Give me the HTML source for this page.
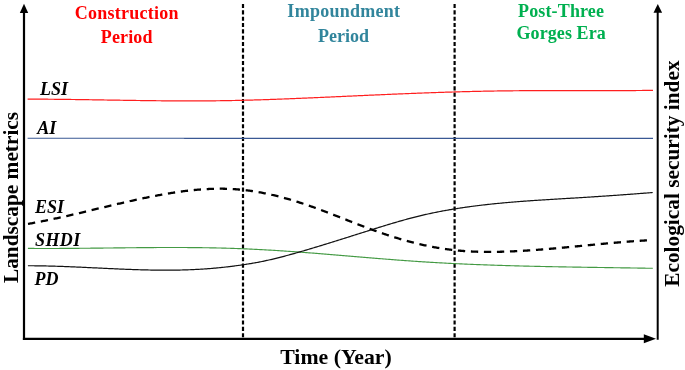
<!DOCTYPE html>
<html><head><meta charset="utf-8"><style>
html,body{margin:0;padding:0;background:#fff;width:685px;height:370px;overflow:hidden}
svg{display:block;will-change:transform}
text{font-family:"Liberation Serif",serif;font-weight:bold}
.t{font-size:18px}
.l{font-size:18px;font-style:italic;fill:#000}
.ax{font-size:21.33px;fill:#000}
.tm{font-size:21.8px}
</style></head><body>
<svg width="685" height="370" viewBox="0 0 685 370">
<rect width="685" height="370" fill="#fff"/>
<!-- vertical dashed separators -->
<line x1="243" y1="4" x2="243" y2="337.5" stroke="#000" stroke-width="2.2" stroke-dasharray="4.1 2.23"/>
<line x1="454.6" y1="4" x2="454.6" y2="337.5" stroke="#000" stroke-width="2.2" stroke-dasharray="4.1 2.23"/>
<!-- curves -->
<path d="M27.60,99.12 L28.60,99.12 L29.60,99.12 L30.60,99.13 L31.60,99.13 L32.60,99.13 L33.60,99.14 L34.60,99.14 L35.60,99.14 L36.60,99.15 L37.60,99.15 L38.60,99.16 L39.60,99.16 L40.60,99.17 L41.60,99.18 L42.60,99.18 L43.60,99.19 L44.60,99.20 L45.60,99.20 L46.60,99.21 L47.60,99.22 L48.60,99.23 L49.60,99.23 L50.60,99.24 L51.60,99.25 L52.60,99.26 L53.60,99.27 L54.60,99.28 L55.60,99.29 L56.60,99.30 L57.60,99.31 L58.60,99.32 L59.60,99.33 L60.60,99.34 L61.60,99.35 L62.60,99.37 L63.60,99.38 L64.60,99.39 L65.60,99.40 L66.60,99.41 L67.60,99.43 L68.60,99.44 L69.60,99.45 L70.60,99.47 L71.60,99.48 L72.60,99.49 L73.60,99.51 L74.60,99.52 L75.60,99.53 L76.60,99.55 L77.60,99.56 L78.60,99.58 L79.60,99.59 L80.60,99.60 L81.60,99.62 L82.60,99.63 L83.60,99.65 L84.60,99.66 L85.60,99.68 L86.60,99.69 L87.60,99.71 L88.60,99.72 L89.60,99.74 L90.60,99.76 L91.60,99.77 L92.60,99.79 L93.60,99.80 L94.60,99.82 L95.60,99.83 L96.60,99.85 L97.60,99.87 L98.60,99.88 L99.60,99.90 L100.60,99.91 L101.60,99.93 L102.60,99.95 L103.60,99.96 L104.60,99.98 L105.60,100.00 L106.60,100.01 L107.60,100.03 L108.60,100.04 L109.60,100.06 L110.60,100.08 L111.60,100.09 L112.60,100.11 L113.60,100.13 L114.60,100.14 L115.60,100.16 L116.60,100.17 L117.60,100.19 L118.60,100.21 L119.60,100.22 L120.60,100.24 L121.60,100.25 L122.60,100.27 L123.60,100.28 L124.60,100.30 L125.60,100.31 L126.60,100.33 L127.60,100.35 L128.60,100.36 L129.60,100.38 L130.60,100.39 L131.60,100.41 L132.60,100.42 L133.60,100.43 L134.60,100.45 L135.60,100.46 L136.60,100.48 L137.60,100.49 L138.60,100.51 L139.60,100.52 L140.60,100.53 L141.60,100.55 L142.60,100.56 L143.60,100.57 L144.60,100.59 L145.60,100.60 L146.60,100.61 L147.60,100.62 L148.60,100.64 L149.60,100.65 L150.60,100.66 L151.60,100.67 L152.60,100.68 L153.60,100.69 L154.60,100.71 L155.60,100.72 L156.60,100.73 L157.60,100.74 L158.60,100.75 L159.60,100.76 L160.60,100.77 L161.60,100.78 L162.60,100.79 L163.60,100.79 L164.60,100.80 L165.60,100.81 L166.60,100.82 L167.60,100.83 L168.60,100.83 L169.60,100.84 L170.60,100.85 L171.60,100.86 L172.60,100.86 L173.60,100.87 L174.60,100.87 L175.60,100.88 L176.60,100.88 L177.60,100.89 L178.60,100.89 L179.60,100.90 L180.60,100.90 L181.60,100.90 L182.60,100.91 L183.60,100.91 L184.60,100.91 L185.60,100.91 L186.60,100.92 L187.60,100.92 L188.60,100.92 L189.60,100.92 L190.60,100.92 L191.60,100.92 L192.60,100.92 L193.60,100.92 L194.60,100.91 L195.60,100.91 L196.60,100.91 L197.60,100.91 L198.60,100.90 L199.60,100.90 L200.60,100.90 L201.60,100.89 L202.60,100.89 L203.60,100.88 L204.60,100.88 L205.60,100.87 L206.60,100.86 L207.60,100.86 L208.60,100.85 L209.60,100.84 L210.60,100.83 L211.60,100.82 L212.60,100.81 L213.60,100.80 L214.60,100.79 L215.60,100.78 L216.60,100.77 L217.60,100.76 L218.60,100.75 L219.60,100.73 L220.60,100.72 L221.60,100.70 L222.60,100.69 L223.60,100.68 L224.60,100.66 L225.60,100.64 L226.60,100.63 L227.60,100.61 L228.60,100.59 L229.60,100.57 L230.60,100.55 L231.60,100.54 L232.60,100.52 L233.60,100.50 L234.60,100.48 L235.60,100.45 L236.60,100.43 L237.60,100.41 L238.60,100.39 L239.60,100.37 L240.60,100.34 L241.60,100.32 L242.60,100.29 L243.60,100.27 L244.60,100.24 L245.60,100.22 L246.60,100.19 L247.60,100.17 L248.60,100.14 L249.60,100.11 L250.60,100.09 L251.60,100.06 L252.60,100.03 L253.60,100.00 L254.60,99.97 L255.60,99.94 L256.60,99.91 L257.60,99.88 L258.60,99.85 L259.60,99.82 L260.60,99.79 L261.60,99.76 L262.60,99.73 L263.60,99.69 L264.60,99.66 L265.60,99.63 L266.60,99.60 L267.60,99.56 L268.60,99.53 L269.60,99.49 L270.60,99.46 L271.60,99.43 L272.60,99.39 L273.60,99.35 L274.60,99.32 L275.60,99.28 L276.60,99.25 L277.60,99.21 L278.60,99.17 L279.60,99.14 L280.60,99.10 L281.60,99.06 L282.60,99.02 L283.60,98.99 L284.60,98.95 L285.60,98.91 L286.60,98.87 L287.60,98.83 L288.60,98.79 L289.60,98.75 L290.60,98.71 L291.60,98.67 L292.60,98.63 L293.60,98.59 L294.60,98.55 L295.60,98.51 L296.60,98.47 L297.60,98.43 L298.60,98.39 L299.60,98.34 L300.60,98.30 L301.60,98.26 L302.60,98.22 L303.60,98.18 L304.60,98.13 L305.60,98.09 L306.60,98.05 L307.60,98.00 L308.60,97.96 L309.60,97.92 L310.60,97.87 L311.60,97.83 L312.60,97.79 L313.60,97.74 L314.60,97.70 L315.60,97.66 L316.60,97.61 L317.60,97.57 L318.60,97.52 L319.60,97.48 L320.60,97.43 L321.60,97.39 L322.60,97.35 L323.60,97.30 L324.60,97.26 L325.60,97.21 L326.60,97.17 L327.60,97.12 L328.60,97.08 L329.60,97.03 L330.60,96.99 L331.60,96.94 L332.60,96.89 L333.60,96.85 L334.60,96.80 L335.60,96.76 L336.60,96.71 L337.60,96.67 L338.60,96.62 L339.60,96.58 L340.60,96.53 L341.60,96.49 L342.60,96.44 L343.60,96.40 L344.60,96.35 L345.60,96.30 L346.60,96.26 L347.60,96.21 L348.60,96.17 L349.60,96.12 L350.60,96.08 L351.60,96.03 L352.60,95.99 L353.60,95.94 L354.60,95.90 L355.60,95.85 L356.60,95.81 L357.60,95.76 L358.60,95.72 L359.60,95.67 L360.60,95.63 L361.60,95.58 L362.60,95.54 L363.60,95.49 L364.60,95.45 L365.60,95.40 L366.60,95.36 L367.60,95.31 L368.60,95.27 L369.60,95.22 L370.60,95.18 L371.60,95.13 L372.60,95.09 L373.60,95.04 L374.60,95.00 L375.60,94.96 L376.60,94.91 L377.60,94.87 L378.60,94.82 L379.60,94.78 L380.60,94.74 L381.60,94.69 L382.60,94.65 L383.60,94.61 L384.60,94.56 L385.60,94.52 L386.60,94.48 L387.60,94.44 L388.60,94.39 L389.60,94.35 L390.60,94.31 L391.60,94.26 L392.60,94.22 L393.60,94.18 L394.60,94.14 L395.60,94.10 L396.60,94.05 L397.60,94.01 L398.60,93.97 L399.60,93.93 L400.60,93.89 L401.60,93.85 L402.60,93.81 L403.60,93.77 L404.60,93.73 L405.60,93.68 L406.60,93.64 L407.60,93.60 L408.60,93.56 L409.60,93.52 L410.60,93.48 L411.60,93.45 L412.60,93.41 L413.60,93.37 L414.60,93.33 L415.60,93.29 L416.60,93.25 L417.60,93.21 L418.60,93.17 L419.60,93.14 L420.60,93.10 L421.60,93.06 L422.60,93.02 L423.60,92.99 L424.60,92.95 L425.60,92.91 L426.60,92.88 L427.60,92.84 L428.60,92.80 L429.60,92.77 L430.60,92.73 L431.60,92.70 L432.60,92.66 L433.60,92.63 L434.60,92.59 L435.60,92.56 L436.60,92.52 L437.60,92.49 L438.60,92.45 L439.60,92.42 L440.60,92.39 L441.60,92.35 L442.60,92.32 L443.60,92.29 L444.60,92.26 L445.60,92.22 L446.60,92.19 L447.60,92.16 L448.60,92.13 L449.60,92.10 L450.60,92.07 L451.60,92.04 L452.60,92.01 L453.60,91.98 L454.60,91.95 L455.60,91.92 L456.60,91.89 L457.60,91.86 L458.60,91.83 L459.60,91.80 L460.60,91.77 L461.60,91.75 L462.60,91.72 L463.60,91.69 L464.60,91.66 L465.60,91.64 L466.60,91.61 L467.60,91.59 L468.60,91.56 L469.60,91.53 L470.60,91.51 L471.60,91.48 L472.60,91.46 L473.60,91.44 L474.60,91.41 L475.60,91.39 L476.60,91.37 L477.60,91.34 L478.60,91.32 L479.60,91.30 L480.60,91.28 L481.60,91.26 L482.60,91.24 L483.60,91.22 L484.60,91.20 L485.60,91.18 L486.60,91.16 L487.60,91.14 L488.60,91.12 L489.60,91.10 L490.60,91.08 L491.60,91.06 L492.60,91.05 L493.60,91.03 L494.60,91.01 L495.60,91.00 L496.60,90.98 L497.60,90.97 L498.60,90.95 L499.60,90.94 L500.60,90.92 L501.60,90.91 L502.60,90.89 L503.60,90.88 L504.60,90.87 L505.60,90.86 L506.60,90.84 L507.60,90.83 L508.60,90.82 L509.60,90.81 L510.60,90.80 L511.60,90.79 L512.60,90.78 L513.60,90.77 L514.60,90.76 L515.60,90.75 L516.60,90.74 L517.60,90.73 L518.60,90.73 L519.60,90.72 L520.60,90.71 L521.60,90.70 L522.60,90.70 L523.60,90.69 L524.60,90.69 L525.60,90.68 L526.60,90.67 L527.60,90.67 L528.60,90.66 L529.60,90.66 L530.60,90.65 L531.60,90.65 L532.60,90.64 L533.60,90.64 L534.60,90.64 L535.60,90.63 L536.60,90.63 L537.60,90.63 L538.60,90.62 L539.60,90.62 L540.60,90.62 L541.60,90.62 L542.60,90.61 L543.60,90.61 L544.60,90.61 L545.60,90.61 L546.60,90.61 L547.60,90.61 L548.60,90.60 L549.60,90.60 L550.60,90.60 L551.60,90.60 L552.60,90.60 L553.60,90.60 L554.60,90.60 L555.60,90.60 L556.60,90.60 L557.60,90.60 L558.60,90.60 L559.60,90.60 L560.60,90.60 L561.60,90.60 L562.60,90.60 L563.60,90.60 L564.60,90.60 L565.60,90.60 L566.60,90.60 L567.60,90.61 L568.60,90.61 L569.60,90.61 L570.60,90.61 L571.60,90.61 L572.60,90.61 L573.60,90.61 L574.60,90.61 L575.60,90.61 L576.60,90.61 L577.60,90.62 L578.60,90.62 L579.60,90.62 L580.60,90.62 L581.60,90.62 L582.60,90.62 L583.60,90.62 L584.60,90.62 L585.60,90.62 L586.60,90.63 L587.60,90.63 L588.60,90.63 L589.60,90.63 L590.60,90.63 L591.60,90.63 L592.60,90.63 L593.60,90.63 L594.60,90.63 L595.60,90.63 L596.60,90.63 L597.60,90.63 L598.60,90.63 L599.60,90.63 L600.60,90.63 L601.60,90.63 L602.60,90.63 L603.60,90.63 L604.60,90.63 L605.60,90.63 L606.60,90.63 L607.60,90.63 L608.60,90.63 L609.60,90.63 L610.60,90.63 L611.60,90.62 L612.60,90.62 L613.60,90.62 L614.60,90.62 L615.60,90.62 L616.60,90.61 L617.60,90.61 L618.60,90.61 L619.60,90.61 L620.60,90.60 L621.60,90.60 L622.60,90.59 L623.60,90.59 L624.60,90.59 L625.60,90.58 L626.60,90.58 L627.60,90.57 L628.60,90.57 L629.60,90.56 L630.60,90.56 L631.60,90.55 L632.60,90.55 L633.60,90.54 L634.60,90.53 L635.60,90.53 L636.60,90.52 L637.60,90.51 L638.60,90.50 L639.60,90.49 L640.60,90.49 L641.60,90.48 L642.60,90.47 L643.60,90.46 L644.60,90.45 L645.60,90.44 L646.60,90.43 L647.60,90.42 L648.60,90.41 L649.60,90.40 L650.60,90.38 L651.60,90.37 L652.60,90.36 L653.00,90.35" fill="none" stroke="#ff1f1f" stroke-width="1.2"/>
<path d="M27.60,138.25 L28.60,138.25 L29.60,138.25 L30.60,138.25 L31.60,138.25 L32.60,138.25 L33.60,138.25 L34.60,138.25 L35.60,138.25 L36.60,138.25 L37.60,138.25 L38.60,138.25 L39.60,138.25 L40.60,138.25 L41.60,138.25 L42.60,138.25 L43.60,138.25 L44.60,138.25 L45.60,138.25 L46.60,138.25 L47.60,138.25 L48.60,138.25 L49.60,138.25 L50.60,138.25 L51.60,138.25 L52.60,138.25 L53.60,138.25 L54.60,138.25 L55.60,138.25 L56.60,138.25 L57.60,138.25 L58.60,138.25 L59.60,138.26 L60.60,138.26 L61.60,138.26 L62.60,138.26 L63.60,138.26 L64.60,138.26 L65.60,138.26 L66.60,138.26 L67.60,138.26 L68.60,138.26 L69.60,138.26 L70.60,138.26 L71.60,138.26 L72.60,138.26 L73.60,138.26 L74.60,138.26 L75.60,138.26 L76.60,138.26 L77.60,138.26 L78.60,138.26 L79.60,138.26 L80.60,138.26 L81.60,138.26 L82.60,138.26 L83.60,138.26 L84.60,138.26 L85.60,138.26 L86.60,138.26 L87.60,138.26 L88.60,138.26 L89.60,138.26 L90.60,138.26 L91.60,138.26 L92.60,138.26 L93.60,138.26 L94.60,138.26 L95.60,138.26 L96.60,138.26 L97.60,138.26 L98.60,138.26 L99.60,138.26 L100.60,138.26 L101.60,138.26 L102.60,138.26 L103.60,138.26 L104.60,138.26 L105.60,138.26 L106.60,138.26 L107.60,138.26 L108.60,138.26 L109.60,138.26 L110.60,138.26 L111.60,138.26 L112.60,138.26 L113.60,138.26 L114.60,138.26 L115.60,138.26 L116.60,138.26 L117.60,138.26 L118.60,138.26 L119.60,138.26 L120.60,138.26 L121.60,138.27 L122.60,138.27 L123.60,138.27 L124.60,138.27 L125.60,138.27 L126.60,138.27 L127.60,138.27 L128.60,138.27 L129.60,138.27 L130.60,138.27 L131.60,138.27 L132.60,138.27 L133.60,138.27 L134.60,138.27 L135.60,138.27 L136.60,138.27 L137.60,138.27 L138.60,138.27 L139.60,138.27 L140.60,138.27 L141.60,138.27 L142.60,138.27 L143.60,138.27 L144.60,138.27 L145.60,138.27 L146.60,138.27 L147.60,138.27 L148.60,138.27 L149.60,138.27 L150.60,138.27 L151.60,138.27 L152.60,138.27 L153.60,138.27 L154.60,138.27 L155.60,138.27 L156.60,138.27 L157.60,138.27 L158.60,138.27 L159.60,138.27 L160.60,138.27 L161.60,138.27 L162.60,138.27 L163.60,138.27 L164.60,138.27 L165.60,138.27 L166.60,138.27 L167.60,138.27 L168.60,138.27 L169.60,138.27 L170.60,138.27 L171.60,138.27 L172.60,138.27 L173.60,138.27 L174.60,138.27 L175.60,138.27 L176.60,138.27 L177.60,138.27 L178.60,138.27 L179.60,138.27 L180.60,138.27 L181.60,138.27 L182.60,138.27 L183.60,138.27 L184.60,138.28 L185.60,138.28 L186.60,138.28 L187.60,138.28 L188.60,138.28 L189.60,138.28 L190.60,138.28 L191.60,138.28 L192.60,138.28 L193.60,138.28 L194.60,138.28 L195.60,138.28 L196.60,138.28 L197.60,138.28 L198.60,138.28 L199.60,138.28 L200.60,138.28 L201.60,138.28 L202.60,138.28 L203.60,138.28 L204.60,138.28 L205.60,138.28 L206.60,138.28 L207.60,138.28 L208.60,138.28 L209.60,138.28 L210.60,138.28 L211.60,138.28 L212.60,138.28 L213.60,138.28 L214.60,138.28 L215.60,138.28 L216.60,138.28 L217.60,138.28 L218.60,138.28 L219.60,138.28 L220.60,138.28 L221.60,138.28 L222.60,138.28 L223.60,138.28 L224.60,138.28 L225.60,138.28 L226.60,138.28 L227.60,138.28 L228.60,138.28 L229.60,138.28 L230.60,138.28 L231.60,138.28 L232.60,138.28 L233.60,138.28 L234.60,138.28 L235.60,138.28 L236.60,138.28 L237.60,138.28 L238.60,138.28 L239.60,138.28 L240.60,138.28 L241.60,138.28 L242.60,138.28 L243.60,138.28 L244.60,138.28 L245.60,138.28 L246.60,138.29 L247.60,138.29 L248.60,138.29 L249.60,138.29 L250.60,138.29 L251.60,138.29 L252.60,138.29 L253.60,138.29 L254.60,138.29 L255.60,138.29 L256.60,138.29 L257.60,138.29 L258.60,138.29 L259.60,138.29 L260.60,138.29 L261.60,138.29 L262.60,138.29 L263.60,138.29 L264.60,138.29 L265.60,138.29 L266.60,138.29 L267.60,138.29 L268.60,138.29 L269.60,138.29 L270.60,138.29 L271.60,138.29 L272.60,138.29 L273.60,138.29 L274.60,138.29 L275.60,138.29 L276.60,138.29 L277.60,138.29 L278.60,138.29 L279.60,138.29 L280.60,138.29 L281.60,138.29 L282.60,138.29 L283.60,138.29 L284.60,138.29 L285.60,138.29 L286.60,138.29 L287.60,138.29 L288.60,138.29 L289.60,138.29 L290.60,138.29 L291.60,138.29 L292.60,138.29 L293.60,138.29 L294.60,138.29 L295.60,138.29 L296.60,138.29 L297.60,138.29 L298.60,138.29 L299.60,138.29 L300.60,138.29 L301.60,138.29 L302.60,138.29 L303.60,138.29 L304.60,138.29 L305.60,138.29 L306.60,138.29 L307.60,138.29 L308.60,138.29 L309.60,138.30 L310.60,138.30 L311.60,138.30 L312.60,138.30 L313.60,138.30 L314.60,138.30 L315.60,138.30 L316.60,138.30 L317.60,138.30 L318.60,138.30 L319.60,138.30 L320.60,138.30 L321.60,138.30 L322.60,138.30 L323.60,138.30 L324.60,138.30 L325.60,138.30 L326.60,138.30 L327.60,138.30 L328.60,138.30 L329.60,138.30 L330.60,138.30 L331.60,138.30 L332.60,138.30 L333.60,138.30 L334.60,138.30 L335.60,138.30 L336.60,138.30 L337.60,138.30 L338.60,138.30 L339.60,138.30 L340.60,138.30 L341.60,138.30 L342.60,138.30 L343.60,138.30 L344.60,138.30 L345.60,138.30 L346.60,138.30 L347.60,138.30 L348.60,138.30 L349.60,138.30 L350.60,138.30 L351.60,138.30 L352.60,138.30 L353.60,138.30 L354.60,138.30 L355.60,138.30 L356.60,138.30 L357.60,138.30 L358.60,138.30 L359.60,138.30 L360.60,138.30 L361.60,138.30 L362.60,138.30 L363.60,138.30 L364.60,138.30 L365.60,138.30 L366.60,138.30 L367.60,138.30 L368.60,138.30 L369.60,138.30 L370.60,138.30 L371.60,138.31 L372.60,138.31 L373.60,138.31 L374.60,138.31 L375.60,138.31 L376.60,138.31 L377.60,138.31 L378.60,138.31 L379.60,138.31 L380.60,138.31 L381.60,138.31 L382.60,138.31 L383.60,138.31 L384.60,138.31 L385.60,138.31 L386.60,138.31 L387.60,138.31 L388.60,138.31 L389.60,138.31 L390.60,138.31 L391.60,138.31 L392.60,138.31 L393.60,138.31 L394.60,138.31 L395.60,138.31 L396.60,138.31 L397.60,138.31 L398.60,138.31 L399.60,138.31 L400.60,138.31 L401.60,138.31 L402.60,138.31 L403.60,138.31 L404.60,138.31 L405.60,138.31 L406.60,138.31 L407.60,138.31 L408.60,138.31 L409.60,138.31 L410.60,138.31 L411.60,138.31 L412.60,138.31 L413.60,138.31 L414.60,138.31 L415.60,138.31 L416.60,138.31 L417.60,138.31 L418.60,138.31 L419.60,138.31 L420.60,138.31 L421.60,138.31 L422.60,138.31 L423.60,138.31 L424.60,138.31 L425.60,138.31 L426.60,138.31 L427.60,138.31 L428.60,138.31 L429.60,138.31 L430.60,138.31 L431.60,138.31 L432.60,138.31 L433.60,138.31 L434.60,138.32 L435.60,138.32 L436.60,138.32 L437.60,138.32 L438.60,138.32 L439.60,138.32 L440.60,138.32 L441.60,138.32 L442.60,138.32 L443.60,138.32 L444.60,138.32 L445.60,138.32 L446.60,138.32 L447.60,138.32 L448.60,138.32 L449.60,138.32 L450.60,138.32 L451.60,138.32 L452.60,138.32 L453.60,138.32 L454.60,138.32 L455.60,138.32 L456.60,138.32 L457.60,138.32 L458.60,138.32 L459.60,138.32 L460.60,138.32 L461.60,138.32 L462.60,138.32 L463.60,138.32 L464.60,138.32 L465.60,138.32 L466.60,138.32 L467.60,138.32 L468.60,138.32 L469.60,138.32 L470.60,138.32 L471.60,138.32 L472.60,138.32 L473.60,138.32 L474.60,138.32 L475.60,138.32 L476.60,138.32 L477.60,138.32 L478.60,138.32 L479.60,138.32 L480.60,138.32 L481.60,138.32 L482.60,138.32 L483.60,138.32 L484.60,138.32 L485.60,138.32 L486.60,138.32 L487.60,138.32 L488.60,138.32 L489.60,138.32 L490.60,138.32 L491.60,138.32 L492.60,138.32 L493.60,138.32 L494.60,138.32 L495.60,138.32 L496.60,138.33 L497.60,138.33 L498.60,138.33 L499.60,138.33 L500.60,138.33 L501.60,138.33 L502.60,138.33 L503.60,138.33 L504.60,138.33 L505.60,138.33 L506.60,138.33 L507.60,138.33 L508.60,138.33 L509.60,138.33 L510.60,138.33 L511.60,138.33 L512.60,138.33 L513.60,138.33 L514.60,138.33 L515.60,138.33 L516.60,138.33 L517.60,138.33 L518.60,138.33 L519.60,138.33 L520.60,138.33 L521.60,138.33 L522.60,138.33 L523.60,138.33 L524.60,138.33 L525.60,138.33 L526.60,138.33 L527.60,138.33 L528.60,138.33 L529.60,138.33 L530.60,138.33 L531.60,138.33 L532.60,138.33 L533.60,138.33 L534.60,138.33 L535.60,138.33 L536.60,138.33 L537.60,138.33 L538.60,138.33 L539.60,138.33 L540.60,138.33 L541.60,138.33 L542.60,138.33 L543.60,138.33 L544.60,138.33 L545.60,138.33 L546.60,138.33 L547.60,138.33 L548.60,138.33 L549.60,138.33 L550.60,138.33 L551.60,138.33 L552.60,138.33 L553.60,138.33 L554.60,138.33 L555.60,138.33 L556.60,138.33 L557.60,138.33 L558.60,138.33 L559.60,138.34 L560.60,138.34 L561.60,138.34 L562.60,138.34 L563.60,138.34 L564.60,138.34 L565.60,138.34 L566.60,138.34 L567.60,138.34 L568.60,138.34 L569.60,138.34 L570.60,138.34 L571.60,138.34 L572.60,138.34 L573.60,138.34 L574.60,138.34 L575.60,138.34 L576.60,138.34 L577.60,138.34 L578.60,138.34 L579.60,138.34 L580.60,138.34 L581.60,138.34 L582.60,138.34 L583.60,138.34 L584.60,138.34 L585.60,138.34 L586.60,138.34 L587.60,138.34 L588.60,138.34 L589.60,138.34 L590.60,138.34 L591.60,138.34 L592.60,138.34 L593.60,138.34 L594.60,138.34 L595.60,138.34 L596.60,138.34 L597.60,138.34 L598.60,138.34 L599.60,138.34 L600.60,138.34 L601.60,138.34 L602.60,138.34 L603.60,138.34 L604.60,138.34 L605.60,138.34 L606.60,138.34 L607.60,138.34 L608.60,138.34 L609.60,138.34 L610.60,138.34 L611.60,138.34 L612.60,138.34 L613.60,138.34 L614.60,138.34 L615.60,138.34 L616.60,138.34 L617.60,138.34 L618.60,138.34 L619.60,138.34 L620.60,138.34 L621.60,138.34 L622.60,138.35 L623.60,138.35 L624.60,138.35 L625.60,138.35 L626.60,138.35 L627.60,138.35 L628.60,138.35 L629.60,138.35 L630.60,138.35 L631.60,138.35 L632.60,138.35 L633.60,138.35 L634.60,138.35 L635.60,138.35 L636.60,138.35 L637.60,138.35 L638.60,138.35 L639.60,138.35 L640.60,138.35 L641.60,138.35 L642.60,138.35 L643.60,138.35 L644.60,138.35 L645.60,138.35 L646.60,138.35 L647.60,138.35 L648.60,138.35 L649.60,138.35 L650.60,138.35 L651.60,138.35 L652.60,138.35 L653.00,138.35" fill="none" stroke="#3a5894" stroke-width="1.2"/>
<path d="M27.90,248.41 L28.90,248.41 L29.90,248.42 L30.90,248.43 L31.90,248.43 L32.90,248.44 L33.90,248.44 L34.90,248.45 L35.90,248.45 L36.90,248.46 L37.90,248.46 L38.90,248.46 L39.90,248.47 L40.90,248.47 L41.90,248.47 L42.90,248.47 L43.90,248.47 L44.90,248.47 L45.90,248.47 L46.90,248.47 L47.90,248.47 L48.90,248.47 L49.90,248.47 L50.90,248.47 L51.90,248.47 L52.90,248.47 L53.90,248.46 L54.90,248.46 L55.90,248.46 L56.90,248.45 L57.90,248.45 L58.90,248.45 L59.90,248.44 L60.90,248.44 L61.90,248.43 L62.90,248.43 L63.90,248.42 L64.90,248.42 L65.90,248.41 L66.90,248.40 L67.90,248.40 L68.90,248.39 L69.90,248.38 L70.90,248.38 L71.90,248.37 L72.90,248.36 L73.90,248.35 L74.90,248.35 L75.90,248.34 L76.90,248.33 L77.90,248.32 L78.90,248.31 L79.90,248.30 L80.90,248.29 L81.90,248.28 L82.90,248.27 L83.90,248.26 L84.90,248.26 L85.90,248.25 L86.90,248.24 L87.90,248.22 L88.90,248.21 L89.90,248.20 L90.90,248.19 L91.90,248.18 L92.90,248.17 L93.90,248.16 L94.90,248.15 L95.90,248.14 L96.90,248.13 L97.90,248.12 L98.90,248.11 L99.90,248.10 L100.90,248.08 L101.90,248.07 L102.90,248.06 L103.90,248.05 L104.90,248.04 L105.90,248.03 L106.90,248.02 L107.90,248.00 L108.90,247.99 L109.90,247.98 L110.90,247.97 L111.90,247.96 L112.90,247.95 L113.90,247.93 L114.90,247.92 L115.90,247.91 L116.90,247.90 L117.90,247.89 L118.90,247.88 L119.90,247.87 L120.90,247.86 L121.90,247.84 L122.90,247.83 L123.90,247.82 L124.90,247.81 L125.90,247.80 L126.90,247.79 L127.90,247.78 L128.90,247.77 L129.90,247.76 L130.90,247.75 L131.90,247.74 L132.90,247.73 L133.90,247.72 L134.90,247.71 L135.90,247.70 L136.90,247.69 L137.90,247.68 L138.90,247.67 L139.90,247.66 L140.90,247.65 L141.90,247.65 L142.90,247.64 L143.90,247.63 L144.90,247.62 L145.90,247.61 L146.90,247.61 L147.90,247.60 L148.90,247.59 L149.90,247.58 L150.90,247.58 L151.90,247.57 L152.90,247.57 L153.90,247.56 L154.90,247.55 L155.90,247.55 L156.90,247.54 L157.90,247.54 L158.90,247.53 L159.90,247.53 L160.90,247.53 L161.90,247.52 L162.90,247.52 L163.90,247.52 L164.90,247.51 L165.90,247.51 L166.90,247.51 L167.90,247.51 L168.90,247.51 L169.90,247.51 L170.90,247.51 L171.90,247.50 L172.90,247.51 L173.90,247.51 L174.90,247.51 L175.90,247.51 L176.90,247.51 L177.90,247.51 L178.90,247.51 L179.90,247.52 L180.90,247.52 L181.90,247.52 L182.90,247.53 L183.90,247.53 L184.90,247.54 L185.90,247.54 L186.90,247.55 L187.90,247.55 L188.90,247.56 L189.90,247.57 L190.90,247.58 L191.90,247.58 L192.90,247.59 L193.90,247.60 L194.90,247.61 L195.90,247.62 L196.90,247.63 L197.90,247.64 L198.90,247.66 L199.90,247.67 L200.90,247.68 L201.90,247.69 L202.90,247.71 L203.90,247.72 L204.90,247.74 L205.90,247.75 L206.90,247.77 L207.90,247.78 L208.90,247.80 L209.90,247.82 L210.90,247.84 L211.90,247.86 L212.90,247.88 L213.90,247.90 L214.90,247.92 L215.90,247.94 L216.90,247.96 L217.90,247.98 L218.90,248.01 L219.90,248.03 L220.90,248.05 L221.90,248.08 L222.90,248.10 L223.90,248.13 L224.90,248.16 L225.90,248.19 L226.90,248.21 L227.90,248.24 L228.90,248.27 L229.90,248.30 L230.90,248.34 L231.90,248.37 L232.90,248.40 L233.90,248.43 L234.90,248.47 L235.90,248.50 L236.90,248.54 L237.90,248.57 L238.90,248.61 L239.90,248.65 L240.90,248.69 L241.90,248.73 L242.90,248.77 L243.90,248.81 L244.90,248.85 L245.90,248.89 L246.90,248.94 L247.90,248.98 L248.90,249.02 L249.90,249.07 L250.90,249.12 L251.90,249.16 L252.90,249.21 L253.90,249.26 L254.90,249.31 L255.90,249.36 L256.90,249.41 L257.90,249.46 L258.90,249.51 L259.90,249.56 L260.90,249.62 L261.90,249.67 L262.90,249.72 L263.90,249.78 L264.90,249.83 L265.90,249.89 L266.90,249.95 L267.90,250.01 L268.90,250.06 L269.90,250.12 L270.90,250.18 L271.90,250.24 L272.90,250.30 L273.90,250.36 L274.90,250.42 L275.90,250.49 L276.90,250.55 L277.90,250.61 L278.90,250.68 L279.90,250.74 L280.90,250.81 L281.90,250.87 L282.90,250.94 L283.90,251.00 L284.90,251.07 L285.90,251.14 L286.90,251.21 L287.90,251.27 L288.90,251.34 L289.90,251.41 L290.90,251.48 L291.90,251.55 L292.90,251.62 L293.90,251.69 L294.90,251.76 L295.90,251.84 L296.90,251.91 L297.90,251.98 L298.90,252.05 L299.90,252.13 L300.90,252.20 L301.90,252.28 L302.90,252.35 L303.90,252.43 L304.90,252.50 L305.90,252.58 L306.90,252.65 L307.90,252.73 L308.90,252.81 L309.90,252.88 L310.90,252.96 L311.90,253.04 L312.90,253.12 L313.90,253.19 L314.90,253.27 L315.90,253.35 L316.90,253.43 L317.90,253.51 L318.90,253.59 L319.90,253.67 L320.90,253.75 L321.90,253.83 L322.90,253.91 L323.90,253.99 L324.90,254.07 L325.90,254.15 L326.90,254.23 L327.90,254.31 L328.90,254.40 L329.90,254.48 L330.90,254.56 L331.90,254.64 L332.90,254.73 L333.90,254.81 L334.90,254.89 L335.90,254.97 L336.90,255.06 L337.90,255.14 L338.90,255.22 L339.90,255.31 L340.90,255.39 L341.90,255.47 L342.90,255.56 L343.90,255.64 L344.90,255.73 L345.90,255.81 L346.90,255.89 L347.90,255.98 L348.90,256.06 L349.90,256.15 L350.90,256.23 L351.90,256.31 L352.90,256.40 L353.90,256.48 L354.90,256.57 L355.90,256.65 L356.90,256.73 L357.90,256.82 L358.90,256.90 L359.90,256.99 L360.90,257.07 L361.90,257.15 L362.90,257.24 L363.90,257.32 L364.90,257.40 L365.90,257.49 L366.90,257.57 L367.90,257.65 L368.90,257.74 L369.90,257.82 L370.90,257.90 L371.90,257.99 L372.90,258.07 L373.90,258.15 L374.90,258.23 L375.90,258.32 L376.90,258.40 L377.90,258.48 L378.90,258.56 L379.90,258.64 L380.90,258.72 L381.90,258.80 L382.90,258.88 L383.90,258.96 L384.90,259.04 L385.90,259.12 L386.90,259.20 L387.90,259.28 L388.90,259.36 L389.90,259.44 L390.90,259.52 L391.90,259.60 L392.90,259.67 L393.90,259.75 L394.90,259.83 L395.90,259.91 L396.90,259.98 L397.90,260.06 L398.90,260.13 L399.90,260.21 L400.90,260.28 L401.90,260.36 L402.90,260.43 L403.90,260.51 L404.90,260.58 L405.90,260.65 L406.90,260.72 L407.90,260.80 L408.90,260.87 L409.90,260.94 L410.90,261.01 L411.90,261.08 L412.90,261.15 L413.90,261.22 L414.90,261.29 L415.90,261.35 L416.90,261.42 L417.90,261.49 L418.90,261.56 L419.90,261.62 L420.90,261.69 L421.90,261.75 L422.90,261.82 L423.90,261.88 L424.90,261.94 L425.90,262.01 L426.90,262.07 L427.90,262.13 L428.90,262.19 L429.90,262.25 L430.90,262.31 L431.90,262.37 L432.90,262.43 L433.90,262.49 L434.90,262.55 L435.90,262.60 L436.90,262.66 L437.90,262.72 L438.90,262.77 L439.90,262.83 L440.90,262.89 L441.90,262.94 L442.90,262.99 L443.90,263.05 L444.90,263.10 L445.90,263.15 L446.90,263.21 L447.90,263.26 L448.90,263.31 L449.90,263.36 L450.90,263.41 L451.90,263.46 L452.90,263.51 L453.90,263.56 L454.90,263.61 L455.90,263.65 L456.90,263.70 L457.90,263.75 L458.90,263.80 L459.90,263.84 L460.90,263.89 L461.90,263.93 L462.90,263.98 L463.90,264.02 L464.90,264.07 L465.90,264.11 L466.90,264.16 L467.90,264.20 L468.90,264.24 L469.90,264.28 L470.90,264.33 L471.90,264.37 L472.90,264.41 L473.90,264.45 L474.90,264.49 L475.90,264.53 L476.90,264.57 L477.90,264.61 L478.90,264.65 L479.90,264.68 L480.90,264.72 L481.90,264.76 L482.90,264.80 L483.90,264.83 L484.90,264.87 L485.90,264.91 L486.90,264.94 L487.90,264.98 L488.90,265.01 L489.90,265.05 L490.90,265.08 L491.90,265.12 L492.90,265.15 L493.90,265.19 L494.90,265.22 L495.90,265.25 L496.90,265.29 L497.90,265.32 L498.90,265.35 L499.90,265.38 L500.90,265.41 L501.90,265.44 L502.90,265.47 L503.90,265.51 L504.90,265.54 L505.90,265.57 L506.90,265.60 L507.90,265.62 L508.90,265.65 L509.90,265.68 L510.90,265.71 L511.90,265.74 L512.90,265.77 L513.90,265.80 L514.90,265.82 L515.90,265.85 L516.90,265.88 L517.90,265.90 L518.90,265.93 L519.90,265.96 L520.90,265.98 L521.90,266.01 L522.90,266.03 L523.90,266.06 L524.90,266.08 L525.90,266.11 L526.90,266.13 L527.90,266.16 L528.90,266.18 L529.90,266.21 L530.90,266.23 L531.90,266.25 L532.90,266.28 L533.90,266.30 L534.90,266.32 L535.90,266.35 L536.90,266.37 L537.90,266.39 L538.90,266.41 L539.90,266.43 L540.90,266.46 L541.90,266.48 L542.90,266.50 L543.90,266.52 L544.90,266.54 L545.90,266.56 L546.90,266.58 L547.90,266.60 L548.90,266.62 L549.90,266.64 L550.90,266.66 L551.90,266.68 L552.90,266.70 L553.90,266.72 L554.90,266.74 L555.90,266.76 L556.90,266.78 L557.90,266.80 L558.90,266.82 L559.90,266.83 L560.90,266.85 L561.90,266.87 L562.90,266.89 L563.90,266.91 L564.90,266.92 L565.90,266.94 L566.90,266.96 L567.90,266.98 L568.90,266.99 L569.90,267.01 L570.90,267.03 L571.90,267.05 L572.90,267.06 L573.90,267.08 L574.90,267.10 L575.90,267.11 L576.90,267.13 L577.90,267.15 L578.90,267.16 L579.90,267.18 L580.90,267.19 L581.90,267.21 L582.90,267.23 L583.90,267.24 L584.90,267.26 L585.90,267.27 L586.90,267.29 L587.90,267.31 L588.90,267.32 L589.90,267.34 L590.90,267.35 L591.90,267.37 L592.90,267.38 L593.90,267.40 L594.90,267.41 L595.90,267.43 L596.90,267.44 L597.90,267.46 L598.90,267.48 L599.90,267.49 L600.90,267.51 L601.90,267.52 L602.90,267.54 L603.90,267.55 L604.90,267.57 L605.90,267.58 L606.90,267.60 L607.90,267.61 L608.90,267.63 L609.90,267.64 L610.90,267.66 L611.90,267.67 L612.90,267.69 L613.90,267.70 L614.90,267.71 L615.90,267.73 L616.90,267.74 L617.90,267.76 L618.90,267.77 L619.90,267.79 L620.90,267.81 L621.90,267.82 L622.90,267.84 L623.90,267.85 L624.90,267.87 L625.90,267.88 L626.90,267.90 L627.90,267.91 L628.90,267.93 L629.90,267.94 L630.90,267.96 L631.90,267.97 L632.90,267.99 L633.90,268.00 L634.90,268.02 L635.90,268.04 L636.90,268.05 L637.90,268.07 L638.90,268.08 L639.90,268.10 L640.90,268.12 L641.90,268.13 L642.90,268.15 L643.90,268.17 L644.90,268.18 L645.90,268.20 L646.90,268.22 L647.90,268.23 L648.90,268.25 L649.90,268.27 L650.90,268.28 L651.90,268.30 L652.70,268.31" fill="none" stroke="#449a44" stroke-width="1.15"/>
<path d="M27.90,265.74 L28.90,265.74 L29.90,265.74 L30.90,265.75 L31.90,265.75 L32.90,265.76 L33.90,265.77 L34.90,265.78 L35.90,265.79 L36.90,265.80 L37.90,265.81 L38.90,265.83 L39.90,265.84 L40.90,265.86 L41.90,265.88 L42.90,265.89 L43.90,265.91 L44.90,265.93 L45.90,265.96 L46.90,265.98 L47.90,266.00 L48.90,266.03 L49.90,266.05 L50.90,266.08 L51.90,266.11 L52.90,266.14 L53.90,266.17 L54.90,266.20 L55.90,266.23 L56.90,266.26 L57.90,266.29 L58.90,266.33 L59.90,266.36 L60.90,266.39 L61.90,266.43 L62.90,266.47 L63.90,266.50 L64.90,266.54 L65.90,266.58 L66.90,266.62 L67.90,266.66 L68.90,266.70 L69.90,266.74 L70.90,266.78 L71.90,266.82 L72.90,266.86 L73.90,266.91 L74.90,266.95 L75.90,266.99 L76.90,267.04 L77.90,267.08 L78.90,267.12 L79.90,267.17 L80.90,267.21 L81.90,267.26 L82.90,267.31 L83.90,267.35 L84.90,267.40 L85.90,267.45 L86.90,267.49 L87.90,267.54 L88.90,267.59 L89.90,267.63 L90.90,267.68 L91.90,267.73 L92.90,267.78 L93.90,267.83 L94.90,267.87 L95.90,267.92 L96.90,267.97 L97.90,268.02 L98.90,268.06 L99.90,268.11 L100.90,268.16 L101.90,268.21 L102.90,268.26 L103.90,268.30 L104.90,268.35 L105.90,268.40 L106.90,268.44 L107.90,268.49 L108.90,268.54 L109.90,268.58 L110.90,268.63 L111.90,268.68 L112.90,268.72 L113.90,268.77 L114.90,268.81 L115.90,268.86 L116.90,268.90 L117.90,268.94 L118.90,268.99 L119.90,269.03 L120.90,269.07 L121.90,269.11 L122.90,269.16 L123.90,269.20 L124.90,269.24 L125.90,269.28 L126.90,269.31 L127.90,269.35 L128.90,269.39 L129.90,269.43 L130.90,269.47 L131.90,269.50 L132.90,269.54 L133.90,269.57 L134.90,269.60 L135.90,269.64 L136.90,269.67 L137.90,269.70 L138.90,269.73 L139.90,269.76 L140.90,269.79 L141.90,269.82 L142.90,269.84 L143.90,269.87 L144.90,269.90 L145.90,269.92 L146.90,269.94 L147.90,269.97 L148.90,269.99 L149.90,270.01 L150.90,270.03 L151.90,270.04 L152.90,270.06 L153.90,270.08 L154.90,270.09 L155.90,270.11 L156.90,270.12 L157.90,270.13 L158.90,270.14 L159.90,270.15 L160.90,270.15 L161.90,270.16 L162.90,270.17 L163.90,270.17 L164.90,270.17 L165.90,270.17 L166.90,270.17 L167.90,270.17 L168.90,270.17 L169.90,270.16 L170.90,270.15 L171.90,270.15 L172.90,270.14 L173.90,270.13 L174.90,270.11 L175.90,270.10 L176.90,270.08 L177.90,270.07 L178.90,270.05 L179.90,270.03 L180.90,270.01 L181.90,269.98 L182.90,269.96 L183.90,269.93 L184.90,269.90 L185.90,269.87 L186.90,269.84 L187.90,269.80 L188.90,269.77 L189.90,269.73 L190.90,269.69 L191.90,269.65 L192.90,269.61 L193.90,269.56 L194.90,269.51 L195.90,269.46 L196.90,269.41 L197.90,269.36 L198.90,269.30 L199.90,269.25 L200.90,269.19 L201.90,269.13 L202.90,269.06 L203.90,269.00 L204.90,268.93 L205.90,268.86 L206.90,268.79 L207.90,268.71 L208.90,268.64 L209.90,268.56 L210.90,268.48 L211.90,268.39 L212.90,268.31 L213.90,268.22 L214.90,268.13 L215.90,268.04 L216.90,267.95 L217.90,267.85 L218.90,267.76 L219.90,267.66 L220.90,267.56 L221.90,267.45 L222.90,267.35 L223.90,267.24 L224.90,267.13 L225.90,267.02 L226.90,266.90 L227.90,266.79 L228.90,266.67 L229.90,266.55 L230.90,266.43 L231.90,266.30 L232.90,266.17 L233.90,266.05 L234.90,265.92 L235.90,265.78 L236.90,265.65 L237.90,265.51 L238.90,265.37 L239.90,265.23 L240.90,265.09 L241.90,264.94 L242.90,264.80 L243.90,264.65 L244.90,264.50 L245.90,264.34 L246.90,264.19 L247.90,264.03 L248.90,263.87 L249.90,263.71 L250.90,263.54 L251.90,263.37 L252.90,263.20 L253.90,263.03 L254.90,262.85 L255.90,262.67 L256.90,262.49 L257.90,262.30 L258.90,262.11 L259.90,261.91 L260.90,261.72 L261.90,261.51 L262.90,261.31 L263.90,261.10 L264.90,260.89 L265.90,260.67 L266.90,260.46 L267.90,260.23 L268.90,260.01 L269.90,259.78 L270.90,259.55 L271.90,259.32 L272.90,259.08 L273.90,258.84 L274.90,258.60 L275.90,258.36 L276.90,258.11 L277.90,257.86 L278.90,257.61 L279.90,257.35 L280.90,257.10 L281.90,256.84 L282.90,256.58 L283.90,256.31 L284.90,256.05 L285.90,255.78 L286.90,255.51 L287.90,255.24 L288.90,254.97 L289.90,254.69 L290.90,254.42 L291.90,254.14 L292.90,253.86 L293.90,253.58 L294.90,253.30 L295.90,253.01 L296.90,252.73 L297.90,252.44 L298.90,252.15 L299.90,251.87 L300.90,251.58 L301.90,251.29 L302.90,251.00 L303.90,250.70 L304.90,250.41 L305.90,250.12 L306.90,249.82 L307.90,249.53 L308.90,249.23 L309.90,248.93 L310.90,248.64 L311.90,248.34 L312.90,248.04 L313.90,247.74 L314.90,247.43 L315.90,247.13 L316.90,246.83 L317.90,246.53 L318.90,246.22 L319.90,245.92 L320.90,245.61 L321.90,245.31 L322.90,245.00 L323.90,244.69 L324.90,244.39 L325.90,244.08 L326.90,243.77 L327.90,243.46 L328.90,243.15 L329.90,242.84 L330.90,242.53 L331.90,242.22 L332.90,241.91 L333.90,241.60 L334.90,241.28 L335.90,240.97 L336.90,240.66 L337.90,240.34 L338.90,240.03 L339.90,239.72 L340.90,239.40 L341.90,239.09 L342.90,238.77 L343.90,238.46 L344.90,238.14 L345.90,237.83 L346.90,237.51 L347.90,237.20 L348.90,236.88 L349.90,236.57 L350.90,236.25 L351.90,235.93 L352.90,235.62 L353.90,235.30 L354.90,234.98 L355.90,234.67 L356.90,234.35 L357.90,234.04 L358.90,233.72 L359.90,233.40 L360.90,233.09 L361.90,232.77 L362.90,232.46 L363.90,232.14 L364.90,231.83 L365.90,231.51 L366.90,231.20 L367.90,230.88 L368.90,230.57 L369.90,230.25 L370.90,229.94 L371.90,229.62 L372.90,229.31 L373.90,229.00 L374.90,228.68 L375.90,228.37 L376.90,228.06 L377.90,227.75 L378.90,227.44 L379.90,227.13 L380.90,226.82 L381.90,226.51 L382.90,226.20 L383.90,225.90 L384.90,225.59 L385.90,225.29 L386.90,224.98 L387.90,224.68 L388.90,224.38 L389.90,224.08 L390.90,223.78 L391.90,223.48 L392.90,223.18 L393.90,222.89 L394.90,222.59 L395.90,222.30 L396.90,222.01 L397.90,221.72 L398.90,221.43 L399.90,221.15 L400.90,220.86 L401.90,220.58 L402.90,220.30 L403.90,220.02 L404.90,219.74 L405.90,219.47 L406.90,219.19 L407.90,218.92 L408.90,218.65 L409.90,218.38 L410.90,218.12 L411.90,217.86 L412.90,217.60 L413.90,217.34 L414.90,217.08 L415.90,216.83 L416.90,216.58 L417.90,216.33 L418.90,216.09 L419.90,215.84 L420.90,215.60 L421.90,215.37 L422.90,215.13 L423.90,214.90 L424.90,214.67 L425.90,214.44 L426.90,214.22 L427.90,214.00 L428.90,213.78 L429.90,213.56 L430.90,213.35 L431.90,213.14 L432.90,212.93 L433.90,212.72 L434.90,212.51 L435.90,212.31 L436.90,212.11 L437.90,211.91 L438.90,211.72 L439.90,211.53 L440.90,211.33 L441.90,211.15 L442.90,210.96 L443.90,210.77 L444.90,210.59 L445.90,210.41 L446.90,210.23 L447.90,210.06 L448.90,209.88 L449.90,209.71 L450.90,209.54 L451.90,209.37 L452.90,209.21 L453.90,209.04 L454.90,208.88 L455.90,208.72 L456.90,208.56 L457.90,208.40 L458.90,208.25 L459.90,208.09 L460.90,207.94 L461.90,207.79 L462.90,207.64 L463.90,207.50 L464.90,207.35 L465.90,207.21 L466.90,207.07 L467.90,206.93 L468.90,206.79 L469.90,206.65 L470.90,206.52 L471.90,206.39 L472.90,206.25 L473.90,206.12 L474.90,205.99 L475.90,205.87 L476.90,205.74 L477.90,205.62 L478.90,205.49 L479.90,205.37 L480.90,205.25 L481.90,205.14 L482.90,205.02 L483.90,204.90 L484.90,204.79 L485.90,204.68 L486.90,204.56 L487.90,204.45 L488.90,204.34 L489.90,204.24 L490.90,204.13 L491.90,204.02 L492.90,203.92 L493.90,203.82 L494.90,203.72 L495.90,203.62 L496.90,203.52 L497.90,203.42 L498.90,203.32 L499.90,203.23 L500.90,203.13 L501.90,203.04 L502.90,202.94 L503.90,202.85 L504.90,202.76 L505.90,202.67 L506.90,202.58 L507.90,202.50 L508.90,202.41 L509.90,202.33 L510.90,202.24 L511.90,202.16 L512.90,202.07 L513.90,201.99 L514.90,201.91 L515.90,201.83 L516.90,201.75 L517.90,201.67 L518.90,201.59 L519.90,201.52 L520.90,201.44 L521.90,201.37 L522.90,201.29 L523.90,201.22 L524.90,201.14 L525.90,201.07 L526.90,201.00 L527.90,200.93 L528.90,200.86 L529.90,200.78 L530.90,200.72 L531.90,200.65 L532.90,200.58 L533.90,200.51 L534.90,200.44 L535.90,200.38 L536.90,200.31 L537.90,200.24 L538.90,200.18 L539.90,200.11 L540.90,200.05 L541.90,199.98 L542.90,199.92 L543.90,199.86 L544.90,199.79 L545.90,199.73 L546.90,199.67 L547.90,199.60 L548.90,199.54 L549.90,199.48 L550.90,199.42 L551.90,199.36 L552.90,199.30 L553.90,199.24 L554.90,199.18 L555.90,199.12 L556.90,199.06 L557.90,199.00 L558.90,198.94 L559.90,198.88 L560.90,198.82 L561.90,198.76 L562.90,198.70 L563.90,198.64 L564.90,198.58 L565.90,198.52 L566.90,198.46 L567.90,198.40 L568.90,198.34 L569.90,198.28 L570.90,198.22 L571.90,198.16 L572.90,198.10 L573.90,198.04 L574.90,197.98 L575.90,197.92 L576.90,197.86 L577.90,197.80 L578.90,197.74 L579.90,197.67 L580.90,197.61 L581.90,197.55 L582.90,197.49 L583.90,197.43 L584.90,197.36 L585.90,197.30 L586.90,197.24 L587.90,197.17 L588.90,197.11 L589.90,197.05 L590.90,196.98 L591.90,196.92 L592.90,196.85 L593.90,196.79 L594.90,196.72 L595.90,196.66 L596.90,196.59 L597.90,196.53 L598.90,196.46 L599.90,196.39 L600.90,196.33 L601.90,196.26 L602.90,196.19 L603.90,196.13 L604.90,196.06 L605.90,195.99 L606.90,195.92 L607.90,195.85 L608.90,195.79 L609.90,195.72 L610.90,195.65 L611.90,195.58 L612.90,195.51 L613.90,195.44 L614.90,195.37 L615.90,195.30 L616.90,195.23 L617.90,195.15 L618.90,195.08 L619.90,195.01 L620.90,194.94 L621.90,194.87 L622.90,194.80 L623.90,194.72 L624.90,194.65 L625.90,194.58 L626.90,194.50 L627.90,194.43 L628.90,194.36 L629.90,194.28 L630.90,194.21 L631.90,194.13 L632.90,194.06 L633.90,193.98 L634.90,193.91 L635.90,193.83 L636.90,193.75 L637.90,193.68 L638.90,193.60 L639.90,193.52 L640.90,193.45 L641.90,193.37 L642.90,193.29 L643.90,193.21 L644.90,193.14 L645.90,193.06 L646.90,192.98 L647.90,192.90 L648.90,192.82 L649.90,192.74 L650.90,192.66 L651.90,192.58 L652.70,192.52" fill="none" stroke="#111" stroke-width="1.2"/>
<path d="M27.60,223.99 L28.60,223.81 L29.60,223.64 L30.60,223.46 L31.60,223.28 L32.60,223.10 L33.60,222.91 L34.60,222.73 L35.60,222.54 L36.60,222.35 L37.60,222.16 L38.60,221.97 L39.60,221.78 L40.60,221.58 L41.60,221.39 L42.60,221.19 L43.60,220.99 L44.60,220.79 L45.60,220.58 L46.60,220.38 L47.60,220.17 L48.60,219.97 L49.60,219.76 L50.60,219.55 L51.60,219.34 L52.60,219.13 L53.60,218.91 L54.60,218.70 L55.60,218.48 L56.60,218.27 L57.60,218.05 L58.60,217.83 L59.60,217.61 L60.60,217.39 L61.60,217.17 L62.60,216.94 L63.60,216.72 L64.60,216.49 L65.60,216.27 L66.60,216.04 L67.60,215.81 L68.60,215.58 L69.60,215.35 L70.60,215.12 L71.60,214.89 L72.60,214.66 L73.60,214.43 L74.60,214.20 L75.60,213.96 L76.60,213.73 L77.60,213.50 L78.60,213.26 L79.60,213.02 L80.60,212.79 L81.60,212.55 L82.60,212.32 L83.60,212.08 L84.60,211.84 L85.60,211.60 L86.60,211.36 L87.60,211.13 L88.60,210.89 L89.60,210.65 L90.60,210.41 L91.60,210.17 L92.60,209.93 L93.60,209.69 L94.60,209.45 L95.60,209.21 L96.60,208.97 L97.60,208.73 L98.60,208.49 L99.60,208.25 L100.60,208.01 L101.60,207.77 L102.60,207.53 L103.60,207.29 L104.60,207.05 L105.60,206.81 L106.60,206.58 L107.60,206.34 L108.60,206.10 L109.60,205.86 L110.60,205.62 L111.60,205.39 L112.60,205.15 L113.60,204.92 L114.60,204.68 L115.60,204.44 L116.60,204.21 L117.60,203.98 L118.60,203.74 L119.60,203.51 L120.60,203.28 L121.60,203.05 L122.60,202.82 L123.60,202.59 L124.60,202.36 L125.60,202.13 L126.60,201.90 L127.60,201.67 L128.60,201.45 L129.60,201.22 L130.60,201.00 L131.60,200.78 L132.60,200.55 L133.60,200.33 L134.60,200.11 L135.60,199.89 L136.60,199.68 L137.60,199.46 L138.60,199.24 L139.60,199.03 L140.60,198.82 L141.60,198.61 L142.60,198.39 L143.60,198.19 L144.60,197.98 L145.60,197.77 L146.60,197.57 L147.60,197.36 L148.60,197.16 L149.60,196.96 L150.60,196.76 L151.60,196.56 L152.60,196.36 L153.60,196.17 L154.60,195.98 L155.60,195.78 L156.60,195.60 L157.60,195.41 L158.60,195.22 L159.60,195.04 L160.60,194.85 L161.60,194.67 L162.60,194.49 L163.60,194.31 L164.60,194.14 L165.60,193.97 L166.60,193.79 L167.60,193.63 L168.60,193.46 L169.60,193.29 L170.60,193.13 L171.60,192.97 L172.60,192.81 L173.60,192.66 L174.60,192.50 L175.60,192.35 L176.60,192.20 L177.60,192.06 L178.60,191.91 L179.60,191.77 L180.60,191.63 L181.60,191.50 L182.60,191.36 L183.60,191.23 L184.60,191.11 L185.60,190.98 L186.60,190.86 L187.60,190.74 L188.60,190.62 L189.60,190.51 L190.60,190.40 L191.60,190.29 L192.60,190.19 L193.60,190.09 L194.60,189.99 L195.60,189.90 L196.60,189.81 L197.60,189.72 L198.60,189.63 L199.60,189.55 L200.60,189.48 L201.60,189.40 L202.60,189.33 L203.60,189.26 L204.60,189.20 L205.60,189.14 L206.60,189.09 L207.60,189.03 L208.60,188.98 L209.60,188.94 L210.60,188.90 L211.60,188.86 L212.60,188.83 L213.60,188.80 L214.60,188.77 L215.60,188.75 L216.60,188.74 L217.60,188.72 L218.60,188.72 L219.60,188.71 L220.60,188.71 L221.60,188.72 L222.60,188.72 L223.60,188.74 L224.60,188.75 L225.60,188.78 L226.60,188.80 L227.60,188.83 L228.60,188.87 L229.60,188.91 L230.60,188.95 L231.60,189.00 L232.60,189.06 L233.60,189.12 L234.60,189.18 L235.60,189.25 L236.60,189.32 L237.60,189.40 L238.60,189.49 L239.60,189.57 L240.60,189.67 L241.60,189.76 L242.60,189.87 L243.60,189.98 L244.60,190.09 L245.60,190.20 L246.60,190.33 L247.60,190.45 L248.60,190.58 L249.60,190.72 L250.60,190.86 L251.60,191.00 L252.60,191.15 L253.60,191.30 L254.60,191.46 L255.60,191.62 L256.60,191.79 L257.60,191.96 L258.60,192.13 L259.60,192.31 L260.60,192.49 L261.60,192.68 L262.60,192.87 L263.60,193.07 L264.60,193.27 L265.60,193.47 L266.60,193.68 L267.60,193.89 L268.60,194.10 L269.60,194.32 L270.60,194.54 L271.60,194.77 L272.60,195.00 L273.60,195.23 L274.60,195.47 L275.60,195.71 L276.60,195.96 L277.60,196.21 L278.60,196.46 L279.60,196.71 L280.60,196.97 L281.60,197.24 L282.60,197.50 L283.60,197.77 L284.60,198.05 L285.60,198.32 L286.60,198.60 L287.60,198.88 L288.60,199.17 L289.60,199.46 L290.60,199.75 L291.60,200.05 L292.60,200.35 L293.60,200.65 L294.60,200.96 L295.60,201.26 L296.60,201.57 L297.60,201.89 L298.60,202.21 L299.60,202.53 L300.60,202.85 L301.60,203.17 L302.60,203.50 L303.60,203.83 L304.60,204.17 L305.60,204.50 L306.60,204.84 L307.60,205.18 L308.60,205.53 L309.60,205.88 L310.60,206.23 L311.60,206.58 L312.60,206.93 L313.60,207.29 L314.60,207.65 L315.60,208.01 L316.60,208.37 L317.60,208.74 L318.60,209.11 L319.60,209.48 L320.60,209.85 L321.60,210.22 L322.60,210.60 L323.60,210.97 L324.60,211.35 L325.60,211.73 L326.60,212.11 L327.60,212.50 L328.60,212.88 L329.60,213.26 L330.60,213.65 L331.60,214.04 L332.60,214.43 L333.60,214.82 L334.60,215.21 L335.60,215.60 L336.60,215.99 L337.60,216.38 L338.60,216.77 L339.60,217.16 L340.60,217.56 L341.60,217.95 L342.60,218.34 L343.60,218.74 L344.60,219.13 L345.60,219.53 L346.60,219.92 L347.60,220.31 L348.60,220.71 L349.60,221.10 L350.60,221.49 L351.60,221.88 L352.60,222.28 L353.60,222.67 L354.60,223.06 L355.60,223.45 L356.60,223.83 L357.60,224.22 L358.60,224.61 L359.60,224.99 L360.60,225.38 L361.60,225.76 L362.60,226.14 L363.60,226.52 L364.60,226.90 L365.60,227.28 L366.60,227.66 L367.60,228.03 L368.60,228.40 L369.60,228.77 L370.60,229.14 L371.60,229.51 L372.60,229.87 L373.60,230.23 L374.60,230.59 L375.60,230.95 L376.60,231.31 L377.60,231.66 L378.60,232.01 L379.60,232.36 L380.60,232.71 L381.60,233.05 L382.60,233.39 L383.60,233.73 L384.60,234.07 L385.60,234.40 L386.60,234.73 L387.60,235.06 L388.60,235.39 L389.60,235.71 L390.60,236.04 L391.60,236.36 L392.60,236.67 L393.60,236.99 L394.60,237.30 L395.60,237.61 L396.60,237.91 L397.60,238.21 L398.60,238.51 L399.60,238.81 L400.60,239.11 L401.60,239.40 L402.60,239.69 L403.60,239.97 L404.60,240.26 L405.60,240.54 L406.60,240.82 L407.60,241.09 L408.60,241.36 L409.60,241.63 L410.60,241.89 L411.60,242.16 L412.60,242.42 L413.60,242.67 L414.60,242.93 L415.60,243.17 L416.60,243.42 L417.60,243.66 L418.60,243.90 L419.60,244.14 L420.60,244.37 L421.60,244.61 L422.60,244.83 L423.60,245.06 L424.60,245.28 L425.60,245.49 L426.60,245.71 L427.60,245.92 L428.60,246.12 L429.60,246.32 L430.60,246.52 L431.60,246.72 L432.60,246.91 L433.60,247.10 L434.60,247.29 L435.60,247.47 L436.60,247.64 L437.60,247.82 L438.60,247.99 L439.60,248.16 L440.60,248.32 L441.60,248.48 L442.60,248.63 L443.60,248.78 L444.60,248.93 L445.60,249.07 L446.60,249.21 L447.60,249.35 L448.60,249.48 L449.60,249.61 L450.60,249.73 L451.60,249.85 L452.60,249.97 L453.60,250.08 L454.60,250.19 L455.60,250.29 L456.60,250.39 L457.60,250.49 L458.60,250.59 L459.60,250.68 L460.60,250.76 L461.60,250.84 L462.60,250.92 L463.60,251.00 L464.60,251.07 L465.60,251.14 L466.60,251.21 L467.60,251.27 L468.60,251.33 L469.60,251.39 L470.60,251.44 L471.60,251.49 L472.60,251.54 L473.60,251.58 L474.60,251.62 L475.60,251.66 L476.60,251.69 L477.60,251.73 L478.60,251.76 L479.60,251.78 L480.60,251.81 L481.60,251.83 L482.60,251.84 L483.60,251.86 L484.60,251.87 L485.60,251.88 L486.60,251.89 L487.60,251.90 L488.60,251.90 L489.60,251.90 L490.60,251.90 L491.60,251.89 L492.60,251.89 L493.60,251.88 L494.60,251.87 L495.60,251.85 L496.60,251.84 L497.60,251.82 L498.60,251.80 L499.60,251.78 L500.60,251.76 L501.60,251.73 L502.60,251.70 L503.60,251.67 L504.60,251.64 L505.60,251.61 L506.60,251.57 L507.60,251.54 L508.60,251.50 L509.60,251.46 L510.60,251.42 L511.60,251.38 L512.60,251.33 L513.60,251.29 L514.60,251.24 L515.60,251.19 L516.60,251.14 L517.60,251.09 L518.60,251.03 L519.60,250.98 L520.60,250.92 L521.60,250.87 L522.60,250.81 L523.60,250.75 L524.60,250.69 L525.60,250.63 L526.60,250.56 L527.60,250.50 L528.60,250.44 L529.60,250.37 L530.60,250.30 L531.60,250.23 L532.60,250.16 L533.60,250.09 L534.60,250.02 L535.60,249.95 L536.60,249.87 L537.60,249.80 L538.60,249.72 L539.60,249.65 L540.60,249.57 L541.60,249.49 L542.60,249.41 L543.60,249.33 L544.60,249.25 L545.60,249.17 L546.60,249.08 L547.60,249.00 L548.60,248.92 L549.60,248.83 L550.60,248.75 L551.60,248.66 L552.60,248.57 L553.60,248.49 L554.60,248.40 L555.60,248.31 L556.60,248.22 L557.60,248.13 L558.60,248.04 L559.60,247.95 L560.60,247.86 L561.60,247.77 L562.60,247.67 L563.60,247.58 L564.60,247.49 L565.60,247.39 L566.60,247.30 L567.60,247.21 L568.60,247.11 L569.60,247.02 L570.60,246.92 L571.60,246.82 L572.60,246.73 L573.60,246.63 L574.60,246.54 L575.60,246.44 L576.60,246.34 L577.60,246.25 L578.60,246.15 L579.60,246.05 L580.60,245.96 L581.60,245.86 L582.60,245.76 L583.60,245.66 L584.60,245.57 L585.60,245.47 L586.60,245.37 L587.60,245.28 L588.60,245.18 L589.60,245.08 L590.60,244.99 L591.60,244.89 L592.60,244.79 L593.60,244.70 L594.60,244.60 L595.60,244.50 L596.60,244.41 L597.60,244.31 L598.60,244.22 L599.60,244.12 L600.60,244.03 L601.60,243.93 L602.60,243.84 L603.60,243.75 L604.60,243.65 L605.60,243.56 L606.60,243.47 L607.60,243.38 L608.60,243.29 L609.60,243.19 L610.60,243.10 L611.60,243.01 L612.60,242.93 L613.60,242.84 L614.60,242.75 L615.60,242.66 L616.60,242.58 L617.60,242.49 L618.60,242.40 L619.60,242.32 L620.60,242.24 L621.60,242.15 L622.60,242.07 L623.60,241.99 L624.60,241.91 L625.60,241.83 L626.60,241.75 L627.60,241.67 L628.60,241.59 L629.60,241.52 L630.60,241.44 L631.60,241.37 L632.60,241.29 L633.60,241.22 L634.60,241.15 L635.60,241.08 L636.60,241.01 L637.60,240.94 L638.60,240.88 L639.60,240.81 L640.60,240.74 L641.60,240.68 L642.60,240.62 L643.60,240.56 L644.60,240.50 L645.60,240.44 L646.60,240.38 L647.50,240.33" fill="none" stroke="#000" stroke-width="2.3" stroke-dasharray="7.3 5.72" stroke-dashoffset="-0.4"/>
<!-- axes -->
<line x1="24" y1="12" x2="24" y2="339.9" stroke="#000" stroke-width="2.2"/>
<polygon points="19.8,13 28.2,13 24,3.8" fill="#000"/>
<line x1="22.9" y1="338.8" x2="645" y2="338.8" stroke="#000" stroke-width="2.2"/>
<polygon points="643.8,334.3 643.8,343.3 656,338.7" fill="#000"/>
<line x1="657.7" y1="12" x2="657.7" y2="339.8" stroke="#000" stroke-width="2"/>
<polygon points="653.5,12.8 662.1,12.8 657.8,3.9" fill="#000"/>
<!-- titles -->
<text class="t" fill="#ff0000" x="126.65" y="19.2" text-anchor="middle" textLength="103.7" lengthAdjust="spacing">Construction</text>
<text class="t" fill="#ff0000" x="126.6" y="42.9" text-anchor="middle" textLength="51.7" lengthAdjust="spacing">Period</text>
<text class="t" fill="#31859c" x="343.7" y="17" text-anchor="middle" textLength="112.7" lengthAdjust="spacing">Impoundment</text>
<text class="t" fill="#31859c" x="343.6" y="42.0" text-anchor="middle">Period</text>
<text class="t" fill="#00b050" x="561.0" y="16.5" text-anchor="middle" textLength="86.0" lengthAdjust="spacing">Post-Three</text>
<text class="t" fill="#00b050" x="561.1" y="38.6" text-anchor="middle" textLength="89.25" lengthAdjust="spacing">Gorges Era</text>
<!-- labels -->
<text class="l" x="39.9" y="95.4">LSI</text>
<text class="l" x="37.2" y="133.6">AI</text>
<text class="l" x="35.1" y="212.8">ESI</text>
<text class="l" x="35.0" y="246.2" textLength="45.2" lengthAdjust="spacing">SHDI</text>
<text class="l" x="34.6" y="284.7">PD</text>
<!-- axis titles -->
<text class="ax tm" x="336" y="363.7" text-anchor="middle">Time (Year)</text>
<text class="ax" transform="translate(17.5,197.5) rotate(-90)" text-anchor="middle">Landscape metrics</text>
<text class="ax" transform="translate(678.5,173.6) rotate(-90)" text-anchor="middle">Ecological security index</text>
</svg>
</body></html>
